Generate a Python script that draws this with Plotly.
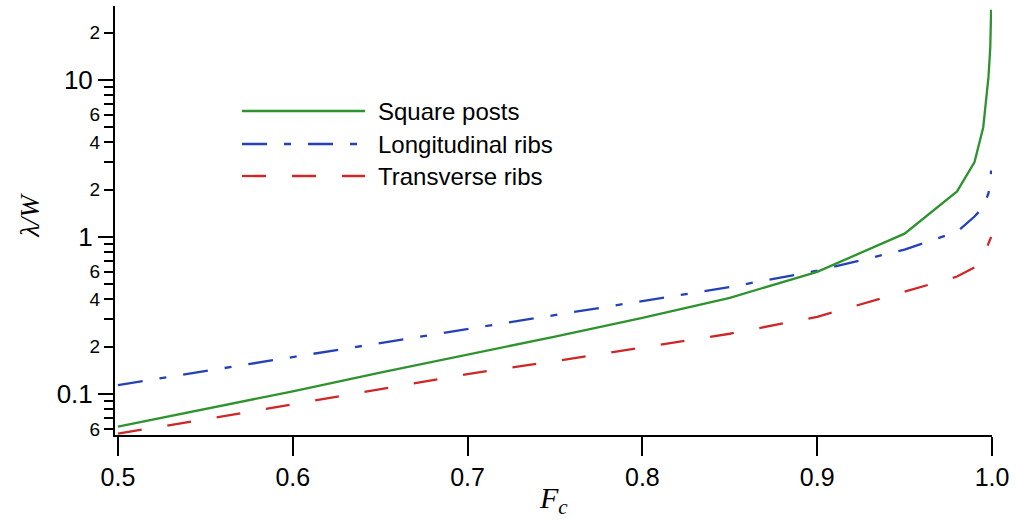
import plotly.graph_objects as go

# Solid fraction F_c and normalised slip length λ/W for three geometries
fc = [0.5, 0.55, 0.6, 0.65, 0.7, 0.75, 0.8, 0.85, 0.9, 0.95, 0.98, 0.99, 0.995, 0.998, 0.999, 0.9995]
square_posts = [0.062, 0.080, 0.104, 0.137, 0.178, 0.232, 0.305, 0.41, 0.60, 1.05, 1.95, 3.0, 5.0, 10.5, 16.0, 28.0]
longitudinal_ribs = [0.114, 0.140, 0.172, 0.210, 0.257, 0.316, 0.39, 0.48, 0.61, 0.83, 1.08, 1.35, 1.55, 1.9, 2.2, 2.65]
transverse_ribs = [0.056, 0.069, 0.086, 0.107, 0.134, 0.162, 0.197, 0.242, 0.31, 0.446, 0.56, 0.64, 0.75, 0.91, 0.96, 1.0]

series_names = ["Square posts", "Longitudinal ribs", "Transverse ribs"]
series_colors = ["#2e932e", "#2341b8", "#cf2626"]
series_dash = ["solid", "25px,17px,7px,17px", "24px,26px"]

x_ticks = [0.5, 0.6, 0.7, 0.8, 0.9, 1.0]
x_ticklabels = ["0.5", "0.6", "0.7", "0.8", "0.9", "1.0"]
y_major = [0.1, 1, 10]
y_major_labels = ["0.1", "1", "10"]
y_minor_labelled = [0.06, 0.2, 0.4, 0.6, 2, 4, 6, 20]
y_minor_labels = ["6", "2", "4", "6", "2", "4", "6", "2"]
y_minor_plain = [0.07, 0.08, 0.09, 0.3, 0.5, 0.7, 0.8, 0.9, 3, 5, 7, 8, 9]

SANS = "Liberation Sans, Arial, sans-serif"
SERIF = "Liberation Serif, Times New Roman, serif"
y_range = [-1.261, 1.471]
x_range = [0.4983, 1.0]

fig = go.Figure()
# y and y2 share the same log range; y2 only carries the long decade ticks
for name, ys, col, dash, yax in zip(series_names, [square_posts, longitudinal_ribs, transverse_ribs],
                                    series_colors, series_dash, ["y2", "y", "y"]):
    fig.add_trace(go.Scatter(x=fc, y=ys, mode="lines", name=name, showlegend=False, yaxis=yax,
                             line=dict(color=col, width=2.3, dash=dash)))

# Hand-drawn legend with long line keys
leg_x0, leg_x1, leg_text_x = 0.1448, 0.2851, 0.2976
leg_rows = [0.7552, 0.6783, 0.6037]
for name, col, dash, yy in zip(series_names, series_colors, series_dash, leg_rows):
    fig.add_shape(type="line", xref="paper", yref="paper", x0=leg_x0, x1=leg_x1, y0=yy, y1=yy,
                  line=dict(color=col, width=2.3, dash=dash))
    fig.add_annotation(xref="paper", yref="paper", x=leg_text_x, y=yy, text=name, showarrow=False,
                       xanchor="left", yanchor="middle", font=dict(family=SANS, size=24, color="black"))

# Axis titles
fig.add_annotation(xref="paper", yref="paper", x=0.5, y=-0.152, text="<i>F<sub>c</sub></i>",
                   showarrow=False, xanchor="center", yanchor="middle",
                   font=dict(family=SERIF, size=30, color="black"))
fig.add_annotation(xref="paper", yref="paper", x=-0.097, y=0.513, text="<i>λ/W</i>",
                   showarrow=False, textangle=-90, xanchor="center", yanchor="middle",
                   font=dict(family=SERIF, size=27, color="black"))

fig.update_layout(
    width=1016, height=531,
    margin=dict(l=115, r=24, t=6, b=96),
    paper_bgcolor="white", plot_bgcolor="white",
    xaxis=dict(range=x_range, tickvals=x_ticks, ticktext=x_ticklabels, showgrid=False, zeroline=False,
               showline=True, linecolor="black", linewidth=2, ticks="outside", ticklen=19, tickwidth=2,
               tickcolor="black", tickfont=dict(family=SANS, size=25, color="black")),
    yaxis=dict(type="log", range=y_range, tickvals=y_minor_labelled, ticktext=y_minor_labels,
               showgrid=False, zeroline=False, showline=True, linecolor="black", linewidth=2,
               ticks="outside", ticklen=9, tickwidth=2, tickcolor="black",
               tickfont=dict(family=SANS, size=19, color="black"),
               minor=dict(tickvals=y_minor_plain, ticks="outside", ticklen=9, tickwidth=2,
                          tickcolor="black", showgrid=False)),
    yaxis2=dict(type="log", range=y_range, overlaying="y", side="left", tickvals=y_major,
                ticktext=y_major_labels, showgrid=False, zeroline=False, showline=False,
                ticks="outside", ticklen=16, tickwidth=2, tickcolor="black",
                tickfont=dict(family=SANS, size=26, color="black")),
)

fig.write_html("out.html")
